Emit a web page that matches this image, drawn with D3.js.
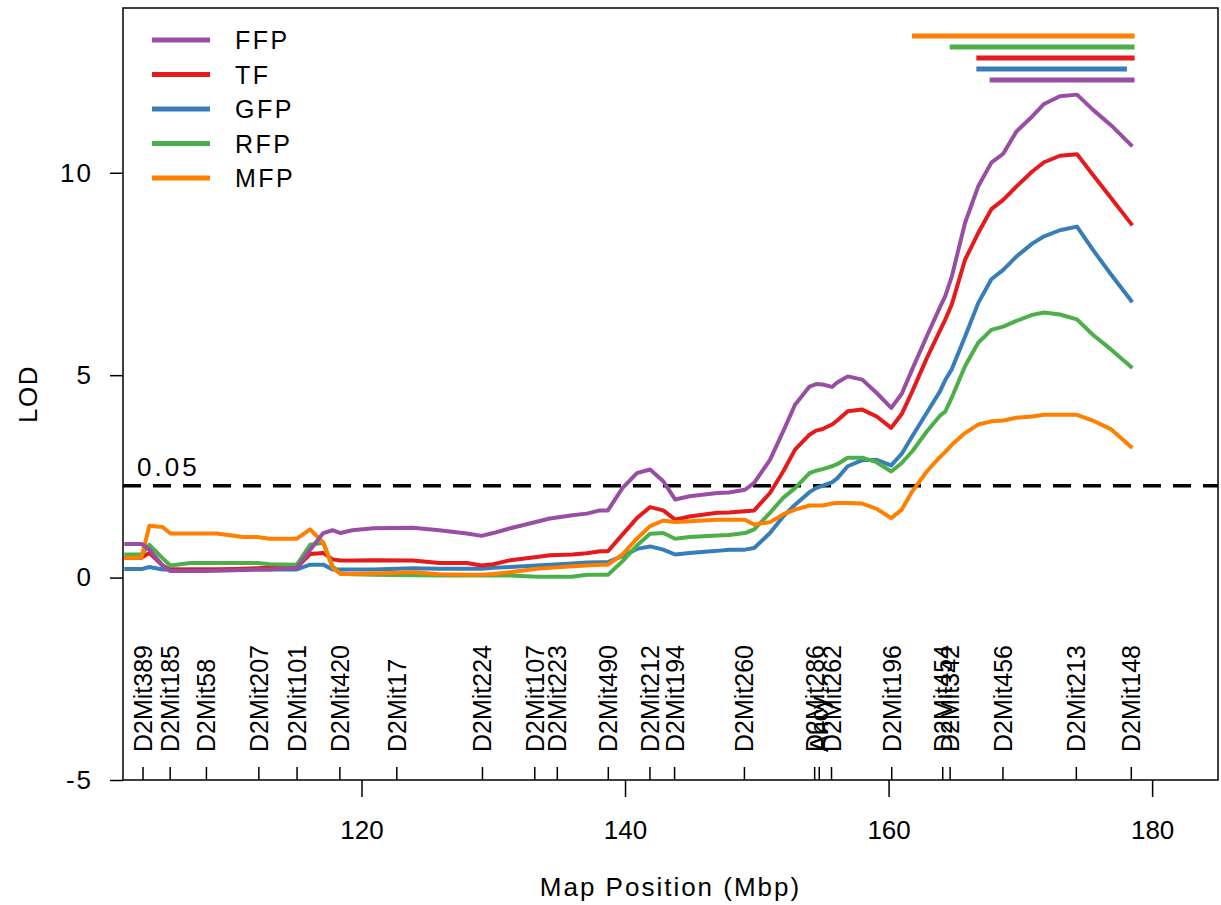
<!DOCTYPE html>
<html><head><meta charset="utf-8">
<script src="https://cdn.jsdelivr.net/npm/d3@7"></script>
<style>body{margin:0;background:#fff} text{font-family:"Liberation Sans",Arial,sans-serif;fill:#000}</style>
</head><body><svg id="c" width="1221" height="905"></svg>
<script>
// ---- data ----
const positions = [102.0,103.3,103.9,104.9,105.5,107.0,108.0,109.0,111.0,112.1,113.0,115.1,116.1,117.1,117.8,118.4,119.3,120.9,123.9,125.9,128.0,129.1,130.0,131.3,133.3,134.3,136.0,137.1,138.1,138.7,139.8,140.9,141.9,142.9,143.8,144.9,147.0,147.9,149.1,149.8,151.0,152.0,152.9,154.0,154.5,155.0,155.7,156.1,156.9,158.0,159.1,160.2,161.0,161.8,162.9,163.9,164.3,164.8,165.8,166.8,167.8,168.7,169.7,170.9,171.8,173.0,174.3,175.5,176.9,178.5];
const seriesNames = ["FFP","TF","GFP","RFP","MFP"];
const seriesColors = ["#984EA3","#E41A1C","#377EB8","#4DAF4A","#FF7F00"];
const lodFFP = [0.83,0.83,0.69,0.30,0.16,0.16,0.16,0.17,0.19,0.20,0.20,0.24,0.68,1.10,1.17,1.10,1.17,1.22,1.23,1.17,1.09,1.03,1.10,1.22,1.38,1.46,1.54,1.58,1.66,1.66,2.21,2.58,2.67,2.38,1.93,2.01,2.09,2.10,2.17,2.34,2.91,3.61,4.27,4.72,4.78,4.77,4.71,4.82,4.97,4.89,4.56,4.19,4.54,5.15,5.96,6.68,6.95,7.44,8.76,9.66,10.25,10.47,11.02,11.39,11.70,11.89,11.93,11.56,11.17,10.65];
const lodTF  = [0.49,0.49,0.61,0.30,0.20,0.20,0.20,0.20,0.22,0.23,0.24,0.25,0.58,0.61,0.45,0.42,0.42,0.43,0.42,0.36,0.36,0.30,0.33,0.43,0.51,0.55,0.57,0.60,0.65,0.65,1.06,1.47,1.74,1.66,1.43,1.51,1.60,1.61,1.64,1.66,2.09,2.62,3.16,3.53,3.63,3.67,3.78,3.88,4.11,4.15,3.98,3.70,4.04,4.60,5.42,6.10,6.37,6.75,7.85,8.51,9.10,9.33,9.66,10.03,10.26,10.42,10.46,9.95,9.37,8.70];
const lodGFP = [0.21,0.21,0.26,0.20,0.20,0.20,0.20,0.20,0.20,0.20,0.20,0.20,0.32,0.32,0.20,0.20,0.20,0.20,0.23,0.22,0.22,0.22,0.24,0.26,0.30,0.32,0.35,0.37,0.38,0.38,0.53,0.71,0.77,0.69,0.57,0.61,0.66,0.69,0.69,0.73,1.10,1.51,1.80,2.11,2.21,2.27,2.35,2.45,2.75,2.90,2.91,2.77,3.06,3.49,4.07,4.60,4.88,5.15,5.95,6.78,7.37,7.60,7.93,8.25,8.43,8.58,8.67,8.10,7.48,6.80];
const lodRFP = [0.57,0.57,0.81,0.48,0.30,0.36,0.36,0.36,0.36,0.36,0.33,0.32,0.81,0.86,0.28,0.10,0.08,0.07,0.06,0.05,0.05,0.05,0.05,0.05,0.02,0.02,0.02,0.07,0.07,0.07,0.40,0.79,1.08,1.10,0.96,1.00,1.04,1.05,1.10,1.19,1.60,1.97,2.21,2.58,2.64,2.68,2.75,2.80,2.96,2.96,2.85,2.62,2.83,3.12,3.61,4.00,4.10,4.45,5.22,5.80,6.12,6.20,6.34,6.49,6.55,6.50,6.38,6.00,5.63,5.18];
const lodMFP = [0.49,0.49,1.28,1.25,1.09,1.09,1.09,1.09,1.00,1.00,0.96,0.96,1.19,0.86,0.25,0.09,0.09,0.10,0.13,0.08,0.07,0.07,0.09,0.13,0.22,0.24,0.28,0.30,0.32,0.32,0.57,0.96,1.27,1.41,1.37,1.39,1.43,1.43,1.43,1.31,1.37,1.56,1.68,1.78,1.78,1.78,1.83,1.84,1.84,1.83,1.70,1.47,1.68,2.13,2.62,2.98,3.10,3.28,3.57,3.78,3.86,3.88,3.95,3.98,4.02,4.02,4.02,3.88,3.66,3.20];
const markerNames = ["D2Mit389","D2Mit185","D2Mit58","D2Mit207","D2Mit101","D2Mit420","D2Mit17","D2Mit224","D2Mit107","D2Mit223","D2Mit490","D2Mit212","D2Mit194","D2Mit260","D2Mit286","Ahcy","D2Mit262","D2Mit196","D2Mit454","D2Mit342","D2Mit456","D2Mit213","D2Mit148"];
const markerPos = [103.42,105.48,108.23,112.21,115.11,118.36,122.68,129.18,133.15,134.86,138.73,141.89,143.76,149.06,154.39,154.74,155.67,160.24,164.11,164.67,168.68,174.25,178.42];
const intervalStart = [167.67,166.66,166.66,164.64,161.78];
const intervalEnd   = [178.67,178.67,178.09,178.67,178.67];
const xTicks = [120,140,160,180];
const yTicks = [-5,0,5,10];
const threshold = 2.27;
const thresholdLabel = "0.05";
const xTitle = "Map Position (Mbp)";
const yTitle = "LOD";

// ---- drawing ----
const lods = [lodFFP,lodTF,lodGFP,lodRFP,lodMFP];
const svg = d3.select("#c");
const L=123,R=1218,T=8,B=780;
const x = d3.scaleLinear().domain([101.9,185.0]).range([L,R]);
const y = d3.scaleLinear().domain([-5,14.07]).range([B,T]);
const fs = 26;

// axes
const xa = svg.append("g").attr("transform",`translate(0,${B})`)
  .call(d3.axisBottom(x).tickValues(xTicks).tickSize(17).tickPadding(24).tickFormat(d3.format("d")));
const ya = svg.append("g").attr("transform",`translate(${L},0)`)
  .call(d3.axisLeft(y).tickValues(yTicks).tickSize(13).tickPadding(17).tickFormat(d=>d<0?"-"+Math.abs(d):d));
[xa,ya].forEach(a=>{a.select(".domain").remove();a.selectAll("line").attr("stroke","#000").attr("stroke-width",1.5);
  a.selectAll("text").attr("font-size",fs).attr("font-family","Liberation Sans, Arial, sans-serif").attr("fill","#000");});
ya.selectAll("text").attr("letter-spacing",2);

// marker ticks and labels
const mk = svg.append("g");
markerPos.forEach((p,i)=>{
  mk.append("line").attr("x1",x(p)).attr("x2",x(p)).attr("y1",B).attr("y2",B-13).attr("stroke","#000").attr("stroke-width",1.5);
  mk.append("text").attr("transform",`translate(${x(p)+9},${B-28}) rotate(-90)`).attr("font-size",25).text(markerNames[i]);
});

// threshold
svg.append("line").attr("x1",L).attr("x2",R).attr("y1",y(threshold)).attr("y2",y(threshold))
  .attr("stroke","#000").attr("stroke-width",3.5).attr("stroke-dasharray","18,12");
svg.append("text").attr("x",137).attr("y",y(threshold)-10).attr("font-size",fs).attr("letter-spacing",3).text(thresholdLabel);

// curves
const line = d3.line().x((d,i)=>x(positions[i])).y(d=>y(d));
const order = [2,1,3,4,0];
order.forEach(k=>{
  svg.append("path").datum(lods[k]).attr("d",line).attr("fill","none")
    .attr("stroke",seriesColors[k]).attr("stroke-width",4).attr("stroke-linejoin","round");
});

// intervals at top
const rowTop = 36, rowGap = 11;
[4,3,1,2,0].forEach((k,r)=>{
  svg.append("line").attr("x1",x(intervalStart[k])).attr("x2",x(intervalEnd[k]))
    .attr("y1",rowTop+r*rowGap).attr("y2",rowTop+r*rowGap)
    .attr("stroke",seriesColors[k]).attr("stroke-width",5);
});

// legend
seriesNames.forEach((n,i)=>{
  const yy = 40 + i*34.5;
  svg.append("line").attr("x1",152).attr("x2",210).attr("y1",yy).attr("y2",yy).attr("stroke",seriesColors[i]).attr("stroke-width",5);
  svg.append("text").attr("x",235).attr("y",yy+9).attr("font-size",25).attr("letter-spacing",2.5).text(n);
});

// box
svg.append("rect").attr("x",L).attr("y",T).attr("width",R-L).attr("height",B-T).attr("fill","none").attr("stroke","#000").attr("stroke-width",1.5);

// titles
svg.append("text").attr("x",(L+R)/2).attr("y",896).attr("text-anchor","middle").attr("font-size",fs).attr("letter-spacing",2).text(xTitle);
svg.append("text").attr("transform",`translate(37,${(T+B)/2}) rotate(-90)`).attr("text-anchor","middle").attr("font-size",fs).attr("letter-spacing",1.5).text(yTitle);
</script></body></html>
